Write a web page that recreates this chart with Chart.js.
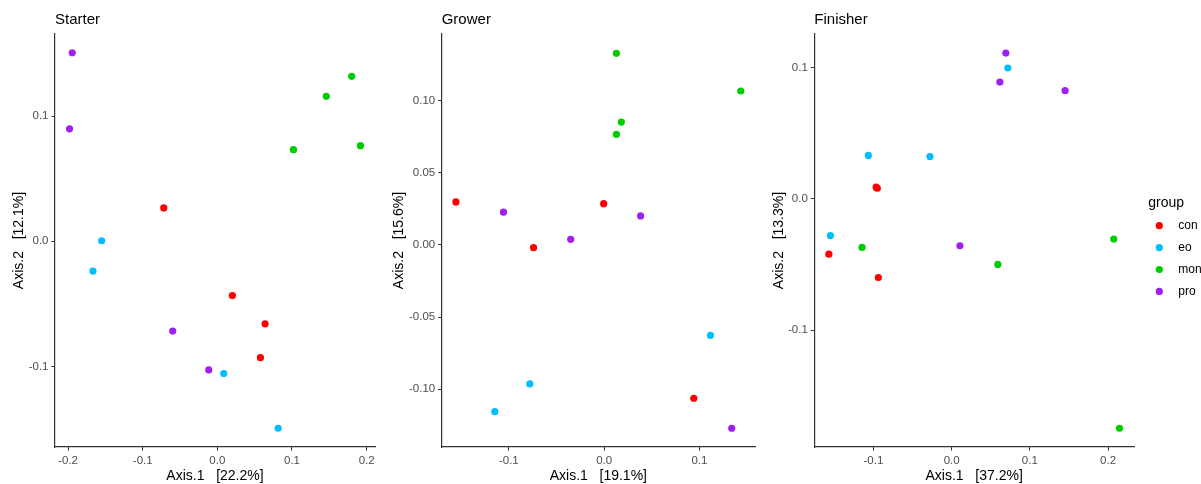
<!DOCTYPE html>
<html>
<head>
<meta charset="utf-8">
<script src="https://cdn.jsdelivr.net/npm/chart.js@4"></script>
<style>
  html, body { margin: 0; padding: 0; background: #ffffff; }
  body { width: 1201px; height: 484px; position: relative; overflow: hidden; }
  canvas { position: absolute; top: 0; }
</style>
</head>
<body>
<canvas id="c1" width="380" height="484" style="left:0px"></canvas>
<canvas id="c2" width="380" height="484" style="left:380px"></canvas>
<canvas id="c3" width="441" height="484" style="left:760px"></canvas>
<script>
// ---------- data ----------
const groups = ['con', 'eo', 'mon', 'pro'];
const panelTitles = ['Starter', 'Grower', 'Finisher'];
const xAxisTitles = ['Axis.1   [22.2%]', 'Axis.1   [19.1%]', 'Axis.1   [37.2%]'];
const yAxisTitles = ['Axis.2   [12.1%]', 'Axis.2   [15.6%]', 'Axis.2   [13.3%]'];

const starterCon = [{x:-0.0718,y:0.0266},{x:0.0201,y:-0.0434},{x:0.0639,y:-0.0660},{x:0.0577,y:-0.0930}];
const starterEo  = [{x:-0.1550,y:0.0004},{x:-0.1666,y:-0.0238},{x:0.0086,y:-0.1057},{x:0.0814,y:-0.1494}];
const starterMon = [{x:0.1019,y:0.0732},{x:0.1460,y:0.1158},{x:0.1800,y:0.1318},{x:0.1917,y:0.0764}];
const starterPro = [{x:-0.1944,y:0.1506},{x:-0.1980,y:0.0898},{x:-0.0598,y:-0.0718},{x:-0.0115,y:-0.1028}];

const growerCon = [{x:-0.1555,y:0.0298},{x:-0.0005,y:0.0286},{x:-0.0741,y:-0.0019},{x:0.0940,y:-0.1062}];
const growerEo  = [{x:0.1115,y:-0.0626},{x:-0.0780,y:-0.0963},{x:-0.1147,y:-0.1155}];
const growerMon = [{x:0.0128,y:0.1328},{x:0.1433,y:0.1067},{x:0.0180,y:0.0852},{x:0.0128,y:0.0767}];
const growerPro = [{x:-0.1056,y:0.0227},{x:0.0382,y:0.0201},{x:-0.0351,y:0.0039},{x:0.1338,y:-0.1270}];

const finisherCon = [{x:-0.0965,y:0.0088},{x:-0.0950,y:0.0080},{x:-0.1570,y:-0.0422},{x:-0.0937,y:-0.0600}];
const finisherEo  = [{x:0.0719,y:0.0996},{x:-0.1065,y:0.0330},{x:-0.0277,y:0.0322},{x:-0.1550,y:-0.0280}];
const finisherMon = [{x:0.2073,y:-0.0307},{x:-0.1146,y:-0.0371},{x:0.0591,y:-0.0500},{x:0.2146,y:-0.1748}];
const finisherPro = [{x:0.0693,y:0.1110},{x:0.0617,y:0.0889},{x:0.1451,y:0.0823},{x:0.0106,y:-0.0358}];

const starterXRange = [-0.2175, 0.2112];
const starterYRange = [-0.1644, 0.1656];
const growerXRange = [-0.1704, 0.1582];
const growerYRange = [-0.1400, 0.1462];
const finisherXRange = [-0.1756, 0.2332];
const finisherYRange = [-0.1891, 0.1255];

const starterXTicks = [-0.2, -0.1, 0, 0.1, 0.2];
const starterXTickLabels = ['-0.2', '-0.1', '0.0', '0.1', '0.2'];
const starterYTicks = [-0.1, 0, 0.1];
const starterYTickLabels = ['-0.1', '0.0', '0.1'];
const growerXTicks = [-0.1, 0, 0.1];
const growerXTickLabels = ['-0.1', '0.0', '0.1'];
const growerYTicks = [-0.1, -0.05, 0, 0.05, 0.1];
const growerYTickLabels = ['-0.10', '-0.05', '0.00', '0.05', '0.10'];
const finisherXTicks = [-0.1, 0, 0.1, 0.2];
const finisherXTickLabels = ['-0.1', '0.0', '0.1', '0.2'];
const finisherYTicks = [-0.1, 0, 0.1];
const finisherYTickLabels = ['-0.1', '0.0', '0.1'];

// ---------- style ----------
const groupColors = ['#FF0000', '#00BFFF', '#00CD00', '#A020F0'];
const FONT = "'Liberation Sans', Arial, Helvetica, sans-serif";
const AXIS_COLOR = '#333333';
const TICK_COLOR = '#4D4D4D';

Chart.defaults.font.family = FONT;

function makeDatasets(seriesList) {
  return seriesList.map((pts, i) => ({
    label: groups[i],
    data: pts,
    backgroundColor: groupColors[i],
    borderColor: groupColors[i],
    borderWidth: 0,
    pointRadius: 3.6,
    pointHoverRadius: 3.6
  }));
}

const panelTitlePlugin = {
  id: 'panelTitle',
  afterDraw(chart, args, opts) {
    const ctx = chart.ctx;
    ctx.save();
    ctx.font = '15px ' + FONT;
    ctx.fillStyle = '#000000';
    ctx.textAlign = 'left';
    ctx.textBaseline = 'middle';
    ctx.fillText(opts.text, chart.chartArea.left, 20);
    ctx.restore();
  }
};

const groupLegendPlugin = {
  id: 'groupLegend',
  afterDraw(chart, args, opts) {
    if (!opts.show) return;
    const ctx = chart.ctx;
    ctx.save();
    ctx.textAlign = 'left';
    ctx.textBaseline = 'middle';
    ctx.fillStyle = '#000000';
    ctx.font = '14px ' + FONT;
    ctx.fillText('group', opts.x, opts.titleY);
    ctx.font = '12px ' + FONT;
    chart.data.datasets.forEach((ds, i) => {
      const y = opts.firstY + i * opts.step;
      ctx.beginPath();
      ctx.fillStyle = ds.backgroundColor;
      ctx.arc(opts.markerX, y, 3.6, 0, Math.PI * 2);
      ctx.fill();
      ctx.fillStyle = '#000000';
      ctx.fillText(ds.label, opts.textX, y);
    });
    ctx.restore();
  }
};

function makeChart(id, idx, seriesList, xRange, yRange, xTicks, xLabels, yTicks, yLabels, yAxisWidth, padRight, legendOpts) {
  return new Chart(document.getElementById(id), {
    type: 'scatter',
    data: { datasets: makeDatasets(seriesList) },
    plugins: [panelTitlePlugin, groupLegendPlugin],
    options: {
      responsive: false,
      animation: false,
      devicePixelRatio: 1,
      events: [],
      layout: { padding: { top: 34, right: padRight, bottom: 0, left: 0 } },
      plugins: {
        legend: { display: false },
        tooltip: { enabled: false },
        title: { display: false },
        panelTitle: { text: panelTitles[idx] },
        groupLegend: legendOpts
      },
      scales: {
        x: {
          type: 'linear',
          position: 'bottom',
          min: xRange[0],
          max: xRange[1],
          afterBuildTicks: (s) => { s.ticks = xTicks.map(v => ({ value: v })); },
          afterFit: (s) => { s.height = 37; },
          border: { display: true, color: AXIS_COLOR, width: 1.2 },
          grid: { drawOnChartArea: false, drawTicks: true, tickLength: 3.5, color: AXIS_COLOR, lineWidth: 1 },
          ticks: {
            color: TICK_COLOR,
            font: { size: 11.5, family: FONT },
            padding: 3.5,
            maxRotation: 0,
            autoSkip: false,
            callback: (v, i) => xLabels[i]
          },
          title: {
            display: true,
            text: xAxisTitles[idx],
            color: '#000000',
            font: { size: 14, family: FONT },
            padding: { top: 0, bottom: -1 }
          }
        },
        y: {
          type: 'linear',
          position: 'left',
          min: yRange[0],
          max: yRange[1],
          afterBuildTicks: (s) => { s.ticks = yTicks.map(v => ({ value: v })); },
          afterFit: (s) => { s.width = yAxisWidth; },
          border: { display: true, color: AXIS_COLOR, width: 1.2 },
          grid: { drawOnChartArea: false, drawTicks: true, tickLength: 3.5, color: AXIS_COLOR, lineWidth: 1 },
          ticks: {
            color: TICK_COLOR,
            font: { size: 11.5, family: FONT },
            padding: 3,
            autoSkip: false,
            callback: (v, i) => yLabels[i]
          },
          title: {
            display: true,
            text: yAxisTitles[idx],
            color: '#000000',
            font: { size: 14, family: FONT },
            padding: { top: 10.5, bottom: 0 }
          }
        }
      }
    }
  });
}

makeChart('c1', 0, [starterCon, starterEo, starterMon, starterPro],
  starterXRange, starterYRange, starterXTicks, starterXTickLabels, starterYTicks, starterYTickLabels,
  55, 5, { show: false });
makeChart('c2', 1, [growerCon, growerEo, growerMon, growerPro],
  growerXRange, growerYRange, growerXTicks, growerXTickLabels, growerYTicks, growerYTickLabels,
  61.7, 5, { show: false });
makeChart('c3', 2, [finisherCon, finisherEo, finisherMon, finisherPro],
  finisherXRange, finisherYRange, finisherXTicks, finisherXTickLabels, finisherYTicks, finisherYTickLabels,
  54.3, 67, { show: true, x: 388.3, titleY: 203.3, markerX: 399.3, textX: 418.3, firstY: 225.7, step: 21.9 });
</script>
</body>
</html>
